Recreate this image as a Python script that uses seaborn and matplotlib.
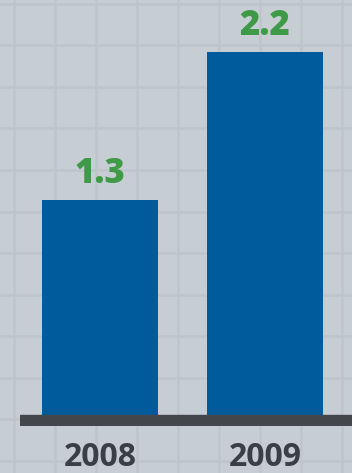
import matplotlib
matplotlib.use("Agg")
import matplotlib.pyplot as plt
import seaborn as sns
import numpy as np
import pandas as pd

years = ["2008", "2009"]
values = [1.3, 2.2]
value_labels = ["1.3", "2.2"]

BG = "#c6cdd3"
GRID = "#bec5cc"
BAR = "#005b9d"
GREEN = "#3f9a47"
BASE = "#43474b"
TXT = "#3a3f47"

sns.set_theme(style="white")
plt.rcParams["font.family"] = ["Open Sans", "DejaVu Sans"]

fig = plt.figure(figsize=(3.52, 4.73), dpi=100)
fig.patch.set_facecolor(BG)

# background faint grid
bg = fig.add_axes([0, 0, 1, 1])
bg.set_xlim(0, 352)
bg.set_ylim(473, 0)
bg.set_facecolor(BG)
bg.set_xticks(np.arange(14, 352, 41))
bg.set_yticks(np.arange(4, 473, 41.5))
bg.grid(True, color=GRID, linewidth=1.8)
bg.tick_params(left=False, bottom=False, labelleft=False, labelbottom=False)
for s in bg.spines.values():
    s.set_visible(False)

px = 165.0
ax = fig.add_axes([20 / 352, (473 - 426) / 473, 332 / 352, 426 / 473])
ax.patch.set_alpha(0)
df = pd.DataFrame({"year": years, "value": values})
sns.barplot(data=df, x="year", y="value", color=BAR, saturation=1, width=0.703,
            linewidth=0, edgecolor=BAR, ax=ax)
ax.set_xlim(-80 / 165, 1 + 87 / 165)
ax.set_ylim(-11 / px, 415 / px)
ax.axhspan(-11 / px, 0, color=BASE, zorder=5)

for i, (v, lab) in enumerate(zip(values, value_labels)):
    ax.annotate(lab, (i, v), xytext=(0, 6), textcoords="offset points",
                ha="center", va="bottom", color=GREEN, fontsize=25,
                fontweight="heavy", family=["Open Sans", "DejaVu Sans"])

ax.set_xlabel("")
ax.set_ylabel("")
ax.set_yticks([])
ax.tick_params(axis="x", length=0, pad=11, labelsize=23, labelcolor=TXT)
for t in ax.get_xticklabels():
    t.set_fontweight("bold")
for s in ax.spines.values():
    s.set_visible(False)

fig.savefig("out.png", dpi=100, facecolor=BG)
